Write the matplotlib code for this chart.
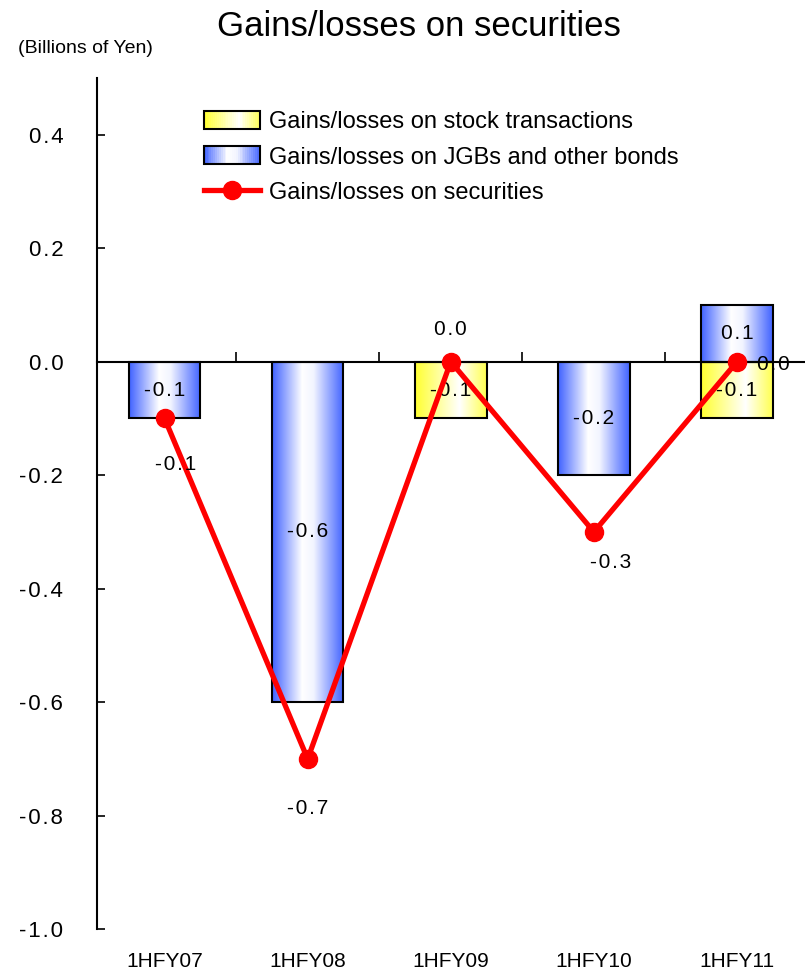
import numpy as np
import matplotlib
matplotlib.use("Agg")
import matplotlib.pyplot as plt
from matplotlib.colors import LinearSegmentedColormap
from matplotlib.legend_handler import HandlerBase
from matplotlib.patches import Rectangle
from matplotlib.lines import Line2D
import matplotlib.transforms as mtransforms

categories = ["1HFY07", "1HFY08", "1HFY09", "1HFY10", "1HFY11"]
stock = [0.0, 0.0, -0.1, 0.0, -0.1]
jgb = [-0.1, -0.6, 0.0, -0.2, 0.1]
securities = [-0.1, -0.7, 0.0, -0.3, 0.0]
yticks = [0.4, 0.2, 0.0, -0.2, -0.4, -0.6, -0.8, -1.0]

plt.rcParams["font.family"] = ["Liberation Sans", "DejaVu Sans"]

blue_cmap = LinearSegmentedColormap.from_list(
    "blue", [(0, "#4062ff"), (0.42, "#ffffff"), (0.58, "#f2f4ff"), (1, "#4062ff")])
yellow_cmap = LinearSegmentedColormap.from_list(
    "yellow", [(0, "#ffff30"), (0.62, "#ffffff"), (1, "#ffff50")])


def spaced(s, sep="\u200a"):
    # the original labels are set with wide letter spacing
    return sep.join(s)


def gradient_bar(ax, x, bottom, height, width, cmap):
    bar = ax.bar(x, height, width, bottom=bottom, facecolor="none",
                 edgecolor="black", linewidth=1.5, zorder=3)[0]
    grad = np.linspace(0, 1, 256).reshape(1, -1)
    y0, y1 = sorted([bottom, bottom + height])
    im = ax.imshow(grad, cmap=cmap, aspect="auto", zorder=2,
                   extent=[x - width / 2, x + width / 2, y0, y1])
    im.set_clip_path(bar)
    return bar


class HandlerGradient(HandlerBase):
    def __init__(self, cmap):
        super().__init__()
        self.cmap = cmap

    def create_artists(self, legend, orig_handle, xdescent, ydescent,
                       width, height, fontsize, trans):
        artists = []
        n = 30
        for i in range(n):
            r = Rectangle((-xdescent + width * i / n, -ydescent), width / n + 0.3,
                          height, facecolor=self.cmap((i + 0.5) / n),
                          edgecolor="none", transform=trans)
            artists.append(r)
        artists.append(Rectangle((-xdescent, -ydescent), width, height,
                                 facecolor="none", edgecolor="black",
                                 linewidth=1.5, transform=trans))
        return artists


fig = plt.figure(figsize=(8.05, 9.74), dpi=100)
ax = fig.add_axes([0.12, 0.046, 0.88, 0.874])

x = np.arange(len(categories))
width = 0.5
for i in range(len(categories)):
    pos_base, neg_base = 0.0, 0.0
    for val, cmap in ((stock[i], yellow_cmap), (jgb[i], blue_cmap)):
        if val == 0:
            continue
        base = pos_base if val > 0 else neg_base
        gradient_bar(ax, x[i], base, val, width, cmap)
        ax.text(x[i], base + val / 2, spaced(f"{val:.1f}"),
                ha="center", va="center", fontsize=15, zorder=4)
        if val > 0:
            pos_base += val
        else:
            neg_base += val

ax.plot(x, securities, color="#ff0000", linewidth=3.8, marker="o",
        markersize=13, zorder=5)

# offsets (points) for the total labels
label_offsets = [(8, -33), (0, -36), (0, 23), (12, -22), (26, -2)]
for xi, v, off in zip(x, securities, label_offsets):
    ax.annotate(spaced(f"{v:.1f}"), (xi, v), xytext=off,
                textcoords="offset points", ha="center", va="center",
                fontsize=15, zorder=6)

ax.set_xlim(-0.475, 4.475)
ax.set_ylim(-1.0, 0.5)
ax.set_yticks(yticks)
ax.set_yticklabels([spaced(f"{t:.1f}") for t in yticks])
ax.tick_params(axis="y", direction="in", length=6, width=1.2, pad=24, labelsize=16)

ax.spines["top"].set_visible(False)
ax.spines["right"].set_visible(False)
ax.spines["bottom"].set_position(("data", 0))
ax.spines["bottom"].set_linewidth(1.5)
ax.spines["left"].set_linewidth(1.5)
ax.set_xticks(x[:-1] + 0.5)
ax.set_xticklabels([])
ax.tick_params(axis="x", direction="in", length=7, width=1.2)

trans = mtransforms.blended_transform_factory(ax.transData, ax.transAxes)
for xi, c in zip(x, categories):
    ax.text(xi, -0.038, c, transform=trans, ha="center", va="center",
            fontsize=15)

fig.text(0.52, 0.973, "Gains/losses on securities", ha="center", va="center",
         fontsize=25)
fig.text(0.022, 0.95, "(Billions of Yen)", ha="left", va="center", fontsize=14)

h_stock = Rectangle((0, 0), 1, 1)
h_jgb = Rectangle((0, 0), 1, 1, facecolor="blue")
h_line = Line2D([], [], color="#ff0000", linewidth=3.8, marker="o", markersize=13)
leg = ax.legend([h_stock, h_jgb, h_line],
                ["Gains/losses on stock transactions",
                 "Gains/losses on JGBs and other bonds",
                 "Gains/losses on securities"],
                handler_map={h_stock: HandlerGradient(yellow_cmap),
                             h_jgb: HandlerGradient(blue_cmap)},
                loc="upper left", bbox_to_anchor=(0.138, 0.972), frameon=False,
                prop={"size": 17}, handlelength=2.4, handleheight=0.8,
                handletextpad=0.35, labelspacing=0.55, borderaxespad=0)

fig.savefig("out.png", dpi=100)
